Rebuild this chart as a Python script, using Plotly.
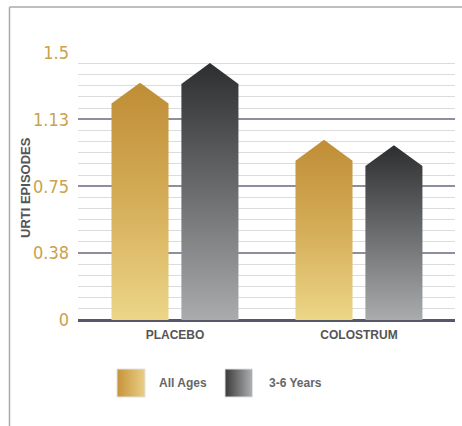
import plotly.graph_objects as go

# ---- data ----
categories = ["PLACEBO", "COLOSTRUM"]
series_names = ["All Ages", "3-6 Years"]
all_ages = [1.33, 1.01]
years_3_6 = [1.44, 0.98]
tick_values = [0, 0.375, 0.75, 1.125, 1.5]
tick_labels = ["0", "0.38", "0.75", "1.13", "1.5"]
y_title = "URTI EPISODES"

# ---- style ----
CAP = 0.117          # height of the pointed cap (y units)
HALF_W = 0.155       # half bar width (x units)
OFFSETS = [-0.19, 0.19]
gold_scale = [[0, "#ecd688"], [0.5, "#d5ad58"], [1, "#bf8d36"]]
gray_scale = [[0, "#a9abad"], [0.5, "#6a6c6e"], [1, "#2c2e2f"]]
scales = [gold_scale, gray_scale]

fig = go.Figure()

for s, (name, vals) in enumerate(zip(series_names, [all_ages, years_3_6])):
    for i, v in enumerate(vals):
        c = i + OFFSETS[s]
        xs = [c - HALF_W, c - HALF_W, c, c + HALF_W, c + HALF_W, c - HALF_W]
        ys = [0, v - CAP, v, v - CAP, 0, 0]
        fig.add_trace(go.Scatter(
            x=xs, y=ys, mode="lines", fill="toself",
            line=dict(width=0, color="rgba(0,0,0,0)"),
            fillgradient=dict(type="vertical", colorscale=scales[s]),
            name=name, showlegend=False, hoverinfo="skip",
            xaxis="x", yaxis="y"))

# ---- legend swatches (separate helper axes in pixel-like units) ----
leg_x = [[117, 145], [225, 252.5]]
leg_scales = [[[0, "#c7933a"], [1, "#e9cf85"]], [[0, "#3a3a3b"], [1, "#b0b1b3"]]]
for s in range(2):
    x0, x1 = leg_x[s]
    fig.add_trace(go.Scatter(
        x=[x0, x0, x1, x1, x0], y=[9, 37, 37, 9, 9], mode="lines", fill="toself",
        line=dict(width=1, color="#e2e2e2"),
        fillgradient=dict(type="horizontal", colorscale=leg_scales[s]),
        showlegend=False, hoverinfo="skip", xaxis="x2", yaxis="y2"))

fig.update_layout(
    width=462, height=426,
    margin=dict(l=78, r=7, t=52, b=20),
    paper_bgcolor="white", plot_bgcolor="white",
    showlegend=False,
    xaxis=dict(
        domain=[0, 1], anchor="y",
        range=[-0.527, 1.522],
        tickmode="array", tickvals=[0, 1], ticktext=categories,
        tickfont=dict(family="Liberation Sans, Arial", size=12, color="#555555", weight="bold"),
        showgrid=False, zeroline=False, showline=False, ticks="",
        ticklabelstandoff=6,
    ),
    yaxis=dict(
        domain=[0.2429, 1], anchor="x",
        range=[0, 1.502],
        tickmode="array", tickvals=tick_values, ticktext=tick_labels,
        tickfont=dict(family="Liberation Sans Narrow, DejaVu Sans Condensed, Roboto", size=18, color="#c9a24c"),
        showgrid=True, gridcolor="#8e8e9e", gridwidth=1.5,
        minor=dict(tick0=0, dtick=0.0625, showgrid=True, gridcolor="#dcdcdc", gridwidth=1),
        zeroline=True, zerolinecolor="#565869", zerolinewidth=3,
        showline=False, ticks="", ticklabelstandoff=8,
    ),
    xaxis2=dict(domain=[0, 1], anchor="y2", range=[78, 455], visible=False, fixedrange=True),
    yaxis2=dict(domain=[0, 0.2429], anchor="x2", range=[0, 86], visible=False, fixedrange=True),
    annotations=[
        dict(text=y_title, xref="paper", yref="paper", x=-0.1406, y=0.6186,
             textangle=-90, showarrow=False, xanchor="center", yanchor="middle",
             font=dict(family="Liberation Sans, Arial", size=13, color="#555555", weight="bold")),
        dict(text=series_names[0], xref="paper", yref="paper", x=0.2095, y=0.065,
             showarrow=False, xanchor="left", yanchor="middle",
             font=dict(family="Liberation Sans, Arial", size=12, color="#666666", weight="bold")),
        dict(text=series_names[1], xref="paper", yref="paper", x=0.5005, y=0.065,
             showarrow=False, xanchor="left", yanchor="middle",
             font=dict(family="Liberation Sans, Arial", size=12, color="#666666", weight="bold")),
    ],
    shapes=[
        dict(type="line", xref="paper", yref="paper", x0=-0.1817, x1=-0.1817, y0=1.1271, y1=-0.06,
             line=dict(color="#aaaaaa", width=1.5)),
        dict(type="line", xref="paper", yref="paper", x0=-0.1817, x1=1.02, y0=1.1271, y1=1.1271,
             line=dict(color="#aaaaaa", width=1.5)),
    ],
)

fig.write_html("out.html")
